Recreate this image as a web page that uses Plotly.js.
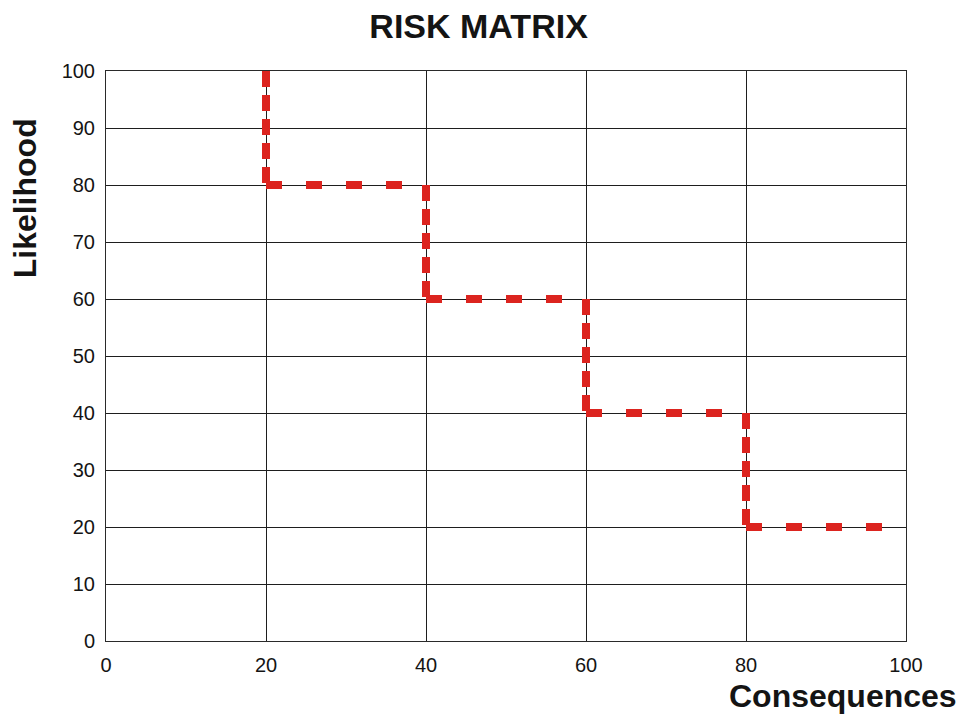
<!DOCTYPE html>
<html>
<head>
<meta charset="utf-8">
<script src="https://cdn.plot.ly/plotly-3.0.1.min.js"></script>
<style>html,body{margin:0;padding:0;background:#fff;} #chart{width:961px;height:715px;}</style>
</head>
<body>
<div id="chart"></div>
<script>
// Risk boundary (step line) points
const stepX = [20, 20, 40, 40, 60, 60, 80, 80, 100];
const stepY = [100, 80, 80, 60, 60, 40, 40, 20, 20];
const xTicks = [0, 20, 40, 60, 80, 100];
const yTicks = [0, 10, 20, 30, 40, 50, 60, 70, 80, 90, 100];
const chartTitle = "RISK MATRIX";
const xTitle = "Consequences";
const yTitle = "Likelihood";

const red = "#dc241f";
const traces = [];
for (let i = 0; i < stepX.length - 1; i++) {
  const vertical = stepX[i] === stepX[i + 1];
  traces.push({
    x: [stepX[i], stepX[i + 1]],
    y: [stepY[i], stepY[i + 1]],
    mode: "lines",
    type: "scatter",
    hoverinfo: "skip",
    line: { color: red, width: 8, dash: vertical ? "16px,8px" : "16px,24px" }
  });
}

const font = { family: "Liberation Sans, Arial, sans-serif", color: "#141414" };

const layout = {
  width: 961, height: 715,
  margin: { l: 106, r: 55, t: 71, b: 74 },
  paper_bgcolor: "#fff", plot_bgcolor: "#fff",
  showlegend: false,
  font: Object.assign({ size: 20 }, font),
  title: {
    text: "<b>" + chartTitle + "</b>",
    font: Object.assign({ size: 34 }, font),
    x: 0.498, xref: "container", xanchor: "center",
    y: 0.964, yref: "container", yanchor: "middle"
  },
  xaxis: {
    range: [0, 100], tickvals: xTicks, ticktext: xTicks.map(String),
    showgrid: true, gridcolor: "#1e1e1e", gridwidth: 1,
    zeroline: false, showline: true, linecolor: "#2a2a2a", linewidth: 1, mirror: true,
    ticks: "", ticklen: 0, tickfont: Object.assign({ size: 20 }, font),
    ticklabelstandoff: 6, fixedrange: true
  },
  yaxis: {
    range: [0, 100], tickvals: yTicks, ticktext: yTicks.map(String),
    showgrid: true, gridcolor: "#1e1e1e", gridwidth: 1,
    zeroline: false, showline: true, linecolor: "#2a2a2a", linewidth: 1, mirror: true,
    ticks: "", ticklen: 0, tickfont: Object.assign({ size: 20 }, font),
    ticklabelstandoff: 6, fixedrange: true
  },
  annotations: [
    {
      text: "<b>" + yTitle + "</b>", textangle: -90, showarrow: false,
      xref: "paper", yref: "paper", x: -0.101, y: 0.777,
      xanchor: "center", yanchor: "middle",
      font: Object.assign({ size: 32 }, font)
    },
    {
      text: "<b>" + xTitle + "</b>", showarrow: false,
      xref: "paper", yref: "paper", x: 1.066, y: -0.097,
      xanchor: "right", yanchor: "middle",
      font: Object.assign({ size: 32 }, font)
    }
  ]
};

Plotly.newPlot("chart", traces, layout, { displayModeBar: false, staticPlot: true });
</script>
</body>
</html>
